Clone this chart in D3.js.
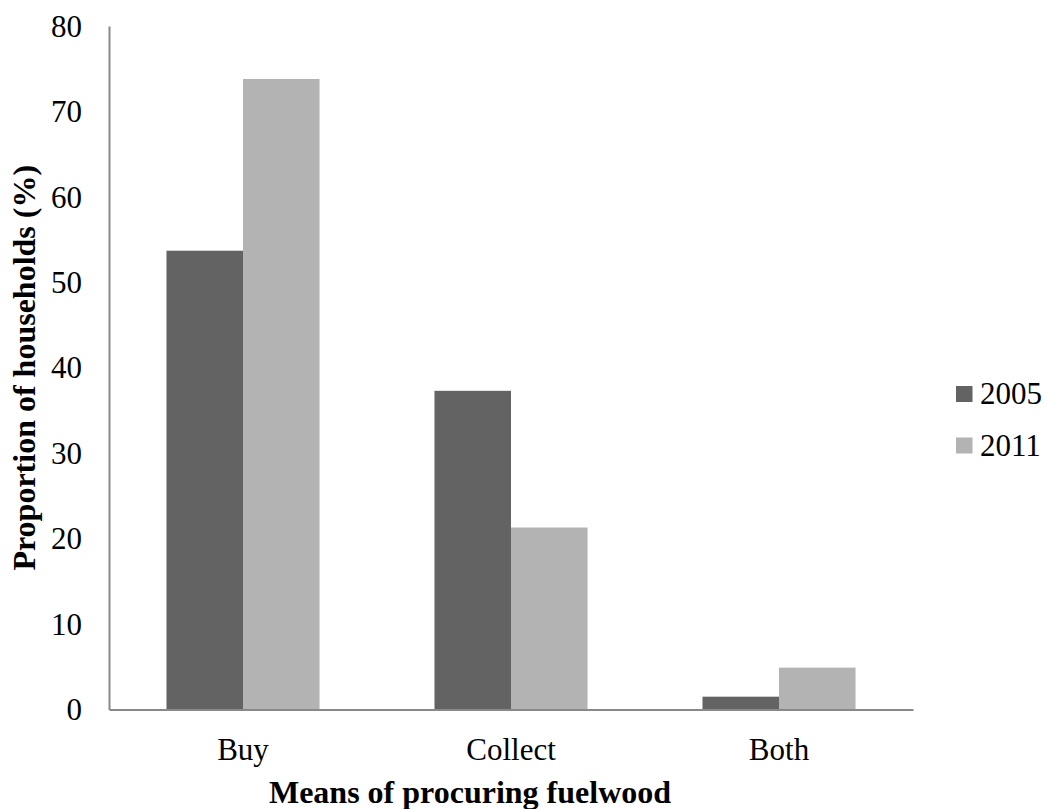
<!DOCTYPE html>
<html lang="en">
<head>
    <meta charset="UTF-8">
    <title>Means of procuring fuelwood</title>
    <script src="https://d3js.org/d3.v7.min.js"></script>
    <style>
        body { margin: 0; background: #fff; }
        text { font-family: "Liberation Serif", "Times New Roman", serif; fill: #000; }
    </style>
</head>
<body>
    <div id="chart-container"></div>

    <script>
        // data
        const categories = ["Buy", "Collect", "Both"];
        const years = ["2005", "2011"];
        const values2005 = [53.7, 37.3, 1.5];
        const values2011 = [73.8, 21.3, 4.9];
        const yTicks = [0, 10, 20, 30, 40, 50, 60, 70, 80];
        const colors = ["#636363", "#b3b3b3"];

        const containerWidth = 1047;
        const containerHeight = 809;
        const margins = { top: 26, right: 134, bottom: 99.5, left: 109 };
        const width = containerWidth - margins.left - margins.right;
        const height = containerHeight - margins.top - margins.bottom;
        const serif = '"Liberation Serif", "Times New Roman", serif';

        const rows = categories.map((c, i) => ({ cat: c, vals: [values2005[i], values2011[i]] }));

        const svg = d3.select("#chart-container")
            .append("svg")
            .attr("width", containerWidth)
            .attr("height", containerHeight)
            .append("g")
            .attr("transform", `translate(${margins.left},${margins.top})`);

        const x0 = d3.scaleBand()
            .domain(categories)
            .range([0, 804])
            .paddingInner(0.429)
            .paddingOuter(0.2145);

        const x1 = d3.scaleBand()
            .domain(years)
            .range([0, x0.bandwidth()]);

        const y = d3.scaleLinear()
            .domain([0, 80])
            .range([height, 0]);

        // bars
        const groups = svg.selectAll(".group")
            .data(rows)
            .enter()
            .append("g")
            .attr("class", "group")
            .attr("transform", d => `translate(${x0(d.cat)},0)`);

        groups.selectAll("rect")
            .data(d => d.vals.map((v, j) => ({ year: years[j], value: v })))
            .enter()
            .append("rect")
            .attr("x", d => x1(d.year))
            .attr("y", d => y(d.value))
            .attr("width", x1.bandwidth())
            .attr("height", d => height - y(d.value))
            .style("fill", (d, j) => colors[j]);

        // y axis
        const yAxis = svg.append("g")
            .call(d3.axisLeft(y).tickValues(yTicks).tickSize(0).tickPadding(27).tickFormat(d3.format("d")));
        yAxis.attr("font-family", null);
        yAxis.select(".domain").attr("stroke", "#898989").attr("stroke-width", 2);
        yAxis.selectAll("text")
            .style("font-family", serif)
            .style("font-size", "31px")
            .attr("dy", "0.33em");

        // x axis
        const xAxis = svg.append("g")
            .attr("transform", `translate(0,${height})`)
            .call(d3.axisBottom(x0).tickSize(0).tickPadding(28));
        xAxis.attr("font-family", null);
        xAxis.select(".domain").attr("stroke", "#898989").attr("stroke-width", 2);
        xAxis.selectAll("text")
            .style("font-family", serif)
            .style("font-size", "31px")
            .attr("dy", "0.71em");

        // axis titles
        svg.append("text")
            .attr("x", 402 - 41)
            .attr("y", 803 - margins.top)
            .attr("text-anchor", "middle")
            .style("font-size", "32px")
            .style("font-weight", "bold")
            .text("Means of procuring fuelwood");

        svg.append("text")
            .attr("transform", `translate(${35 - margins.left},${height / 2}) rotate(-90)`)
            .attr("text-anchor", "middle")
            .style("font-size", "32px")
            .style("font-weight", "bold")
            .text("Proportion of households (%)");

        // legend
        const legend = svg.append("g")
            .attr("transform", `translate(${956 - margins.left},${386 - margins.top})`);

        years.forEach((yr, i) => {
            legend.append("rect")
                .attr("x", 0)
                .attr("y", i * 51.5)
                .attr("width", 16.5)
                .attr("height", 16)
                .style("fill", colors[i]);
            legend.append("text")
                .attr("x", 24)
                .attr("y", i * 51.5 + 18)
                .style("font-size", "31px")
                .text(yr);
        });
    </script>
</body>
</html>
